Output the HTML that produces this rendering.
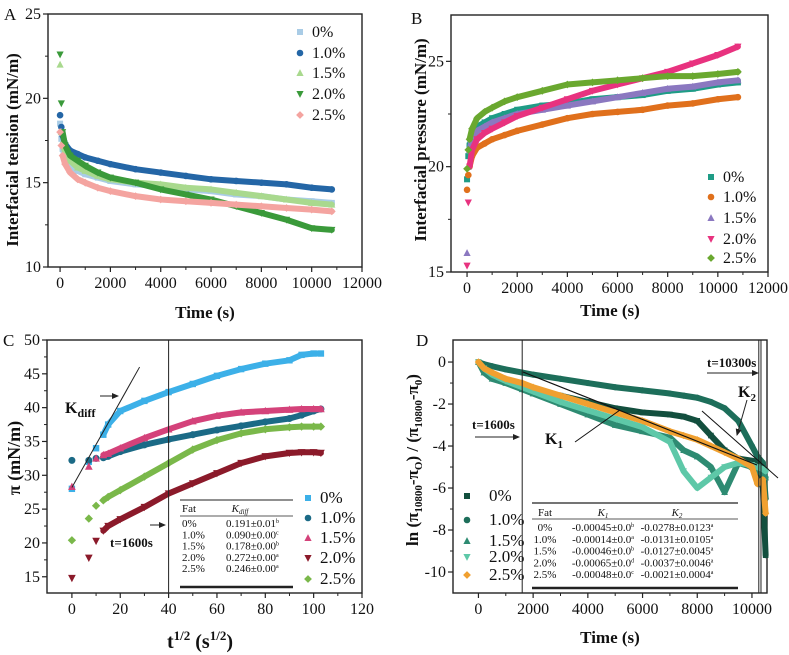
<!DOCTYPE html>
<html><head><meta charset="utf-8"><style>
html,body{margin:0;padding:0;background:#fff}
svg{display:block;font-family:"Liberation Serif",serif}
</style></head><body>
<svg id="fig" width="789" height="655" viewBox="0 0 789 655" xmlns="http://www.w3.org/2000/svg"></svg>
<script>
// ---------- DATA ----------
const tA=[0,50,100,200,400,700,1000,1500,2000,3000,4000,5000,6000,7000,8000,9000,10000,10800];
const labelsFat=["0%","1.0%","1.5%","2.0%","2.5%"];
const A0=[18.5,17.6,17.0,16.5,16.0,15.7,15.5,15.3,15.1,14.9,14.8,14.6,14.5,14.3,14.2,14.0,13.9,13.8];
const A1=[19.0,18.3,17.8,17.3,16.9,16.7,16.5,16.3,16.1,15.8,15.6,15.4,15.2,15.1,15.0,14.9,14.7,14.6];
const A15=[22.0,18.0,17.3,16.8,16.3,15.9,15.7,15.4,15.2,15.0,14.9,14.7,14.6,14.4,14.2,14.0,13.8,13.7];
const A2=[22.6,19.7,18.0,17.2,16.6,16.3,16.0,15.6,15.3,15.0,14.6,14.3,14.0,13.6,13.2,12.8,12.3,12.2];
const A25=[18.0,17.2,16.6,16.1,15.6,15.2,15.0,14.7,14.5,14.2,14.0,13.9,13.8,13.7,13.6,13.5,13.4,13.3];
const B0=[19.4,20.5,21.0,21.5,21.9,22.1,22.3,22.5,22.7,22.9,23.0,23.2,23.3,23.4,23.6,23.7,23.9,24.0];
const B1=[18.9,19.6,20.0,20.5,20.9,21.1,21.3,21.5,21.7,22.0,22.3,22.5,22.6,22.7,22.9,23.0,23.2,23.3];
const B15=[15.9,20.0,20.8,21.3,21.7,21.9,22.1,22.3,22.5,22.7,22.9,23.1,23.3,23.5,23.7,23.8,24.0,24.1];
const B2=[15.3,18.3,20.0,20.8,21.3,21.6,21.8,22.1,22.4,22.8,23.2,23.6,23.9,24.2,24.5,24.9,25.3,25.7];
const B25=[19.9,20.8,21.3,21.8,22.3,22.6,22.8,23.1,23.3,23.6,23.9,24.0,24.1,24.2,24.3,24.3,24.4,24.5];
const sqC=[0,7,10,13,15,20,30,40,50,60,70,80,90,95,100,103];
const C0=[28,32,34,36,37.5,39.5,41,42.3,43.5,44.7,45.7,46.5,47.0,47.8,48,48];
const C1=[32.2,32.2,32.5,32.6,32.8,33.5,34.5,35.3,36,36.7,37.3,37.9,38.4,38.9,39.5,39.8];
const C15=[28.3,31.3,32.5,33,33.2,34,35.5,36.8,38,38.8,39.3,39.5,39.7,39.8,39.8,39.8];
const C2=[14.8,17.8,20.3,21.8,22.5,23.5,25.3,27.3,28.8,30.3,31.8,32.8,33.3,33.4,33.4,33.3];
const C25=[20.4,23.6,25.5,26.3,26.8,27.8,29.8,31.8,33.8,35.2,36.2,36.8,37.1,37.2,37.2,37.2];
const tD=[0,200,500,1000,1600,2000,3000,4000,5000,6000,7000,7500,8000,8500,9000,9500,10000,10200,10400,10500];
const D0=[0,-0.4,-0.7,-0.9,-1.1,-1.3,-1.6,-1.9,-2.2,-2.4,-2.5,-2.6,-2.8,-3.5,-4.2,-4.6,-4.7,-4.8,-6,-9.2];
const D1=[0,-0.1,-0.2,-0.35,-0.5,-0.6,-0.8,-1.0,-1.2,-1.35,-1.5,-1.6,-1.7,-1.9,-2.2,-2.8,-4.0,-4.5,-4.8,-6.5];
const D15=[0,-0.5,-0.8,-1.0,-1.3,-1.5,-2.0,-2.5,-3.0,-3.3,-3.6,-4.2,-4.5,-5.0,-6.2,-4.8,-5.0,-5.2,-5.3,-5.5];
const D2=[0,-0.3,-0.6,-0.9,-1.2,-1.4,-1.9,-2.3,-2.7,-3.1,-3.8,-5.2,-6.0,-5.5,-5.0,-4.8,-4.9,-5.0,-5.1,-5.2];
const D25=[0,-0.3,-0.5,-0.8,-1.0,-1.2,-1.6,-2.0,-2.4,-2.8,-3.3,-3.5,-3.7,-4.0,-4.3,-4.6,-5.0,-5.8,-5.6,-7.2];
const ticksA_x=[0,2000,4000,6000,8000,10000,12000];
const ticksA_y=[10,15,20,25];
const ticksB_y=[15,20,25];
const ticksC_x=[0,20,40,60,80,100,120];
const ticksC_y=[15,20,25,30,35,40,45,50];
const ticksD_x=[0,2000,4000,6000,8000,10000];
const ticksD_y=[0,-2,-4,-6,-8,-10];
const kdiffRows=[["0%","0.191±0.01","b"],["1.0%","0.090±0.00","c"],["1.5%","0.178±0.00","b"],["2.0%","0.272±0.00","a"],["2.5%","0.246±0.00","a"]];
const kRows=[["0%","-0.00045±0.0","b","-0.0278±0.0123","a"],["1.0%","-0.00014±0.0","a","-0.0131±0.0105","a"],["1.5%","-0.00046±0.0","b","-0.0127±0.0045","a"],["2.0%","-0.00065±0.0","d","-0.0037±0.0046","a"],["2.5%","-0.00048±0.0","c","-0.0021±0.0004","a"]];

// ---------- HELPERS ----------
const NS="http://www.w3.org/2000/svg";
const svg=document.getElementById('fig');
function mk(tag,attrs,parent){const e=document.createElementNS(NS,tag);for(const k in attrs)e.setAttribute(k,attrs[k]);(parent||svg).appendChild(e);return e;}
function txt(s,x,y,opt,parent){const e=mk('text',Object.assign({x:x,y:y,'font-size':15,fill:'#111','font-family':'Liberation Serif, serif'},opt||{}),parent);e.textContent=s;return e;}
function marker(g,shape,x,y,c,s){
  let e;
  if(shape==='sq') e=mk('rect',{x:x-s,y:y-s,width:2*s,height:2*s,fill:c},g);
  else if(shape==='ci') e=mk('circle',{cx:x,cy:y,r:s*1.1,fill:c},g);
  else if(shape==='tu') e=mk('polygon',{points:`${x},${y-s*1.3} ${x-s*1.2},${y+s} ${x+s*1.2},${y+s}`,fill:c},g);
  else if(shape==='td') e=mk('polygon',{points:`${x},${y+s*1.3} ${x-s*1.2},${y-s} ${x+s*1.2},${y-s}`,fill:c},g);
  else e=mk('polygon',{points:`${x},${y-s*1.3} ${x+s*1.3},${y} ${x},${y+s*1.3} ${x-s*1.3},${y}`,fill:c},g);
  return e;
}
function axes(name,box,xd,yd,xt,yt){
  const sx=v=>box.l+(v-xd[0])/(xd[1]-xd[0])*(box.r-box.l);
  const sy=v=>box.b-(v-yd[0])/(yd[1]-yd[0])*(box.b-box.t);
  const g=mk('g',{});
  
  
  mk('rect',{x:box.l,y:box.t,width:box.r-box.l,height:box.b-box.t,fill:'none',stroke:'#222','stroke-width':1.4},g);
  xt.forEach(v=>{const x=sx(v);mk('line',{x1:x,x2:x,y1:box.b,y2:box.b+5,stroke:'#222','stroke-width':1.2},g);
    const t=txt(String(v),x,box.b+21,{'text-anchor':'middle','font-size':16},g);
    });
  for(let i=0;i<xt.length-1;i++){const m=(xt[i]+xt[i+1])/2;const x=sx(m);mk('line',{x1:x,x2:x,y1:box.b,y2:box.b+3,stroke:'#222'},g);}
  yt.forEach(v=>{const y=sy(v);mk('line',{x1:box.l-5,x2:box.l,y1:y,y2:y,stroke:'#222','stroke-width':1.2},g);
    const t=txt(String(v),box.l-7,y+5,{'text-anchor':'end','font-size':16},g);
    });
  for(let i=0;i<yt.length-1;i++){const m=(yt[i]+yt[i+1])/2;const y=sy(m);mk('line',{x1:box.l-3,x2:box.l,y1:y,y2:y,stroke:'#222'},g);}
  return {sx,sy,g};
}
function series(ax,name,xs,ys,color,shape,startLine,ms){
  const g=mk('g',{});
  
  
  const pts=xs.slice(startLine).map((x,i)=>ax.sx(x)+','+ax.sy(ys[i+startLine])).join(' ');
  mk('polyline',{points:pts,fill:'none',stroke:color,'stroke-width':6,'stroke-linejoin':'round','stroke-linecap':'round'},g);
  xs.forEach((x,i)=>{const m=marker(g,shape,ax.sx(x),ax.sy(ys[i]),color,ms||3);
    
    });
}
function legend(name,x,ys,colors,shapes,labels,fs,gap){
  const g=mk('g',{});
  
  
  labels.forEach((l,i)=>{const m=marker(g,shapes[i],x,ys[i],colors[i],3);
    
    const t=txt(l,x+(gap||12),ys[i]+5,{'font-size':fs},g);
    });
}
const shapes=['sq','ci','tu','td','di'];

// ---------- PANEL A ----------
const aA=axes('panel-a',{l:48,r:362,t:14,b:267},[-480,12000],[10,25],ticksA_x,ticksA_y);
const colA=['#a9cce6','#2466a6','#a9d98e','#3a9a3a','#f4a4a0'];
[A0,A1,A15,A2,A25].forEach((d,i)=>series(aA,'series-a-'+labelsFat[i],tA,d,colA[i],shapes[i],2));
legend('legend-a',300,[32,53,73,94,115],colA,shapes,labelsFat,16);

// ---------- PANEL B ----------
const aB=axes('panel-b',{l:451,r:768,t:15,b:272},[-640,12000],[15,27.2],ticksA_x,ticksB_y);
const colB=['#1f9c86','#e0701c','#8b78c0','#e8327f','#6aa82f'];
[B0,B1,B15,B2,B25].forEach((d,i)=>series(aB,'series-b-'+labelsFat[i],tA,d,colB[i],shapes[i],2));
legend('legend-b',711,[177,197,218,239,258],colB,shapes,labelsFat,16);

// ---------- PANEL C ----------
const aC=axes('panel-c',{l:47,r:362,t:340,b:593},[-10.3,120],[12.6,50],ticksC_x,ticksC_y);
const colC=['#3cb0e8','#1b6a86','#d4427a','#8b1a2a','#7ab84a'];
[C0,C1,C15,C2,C25].forEach((d,i)=>series(aC,'series-c-'+labelsFat[i],sqC,d,colC[i],shapes[i],3,3.2));
legend('legend-c',308,[498,518,538,558,579],colC,shapes,labelsFat,17);
mk('line',{x1:aC.sx(40),x2:aC.sx(40),y1:340,y2:593,stroke:'#222','stroke-width':1});
mk('line',{x1:aC.sx(0),y1:aC.sy(28.2),x2:aC.sx(28),y2:aC.sy(46),stroke:'#222','stroke-width':1});

// ---------- PANEL D ----------
const aD=axes('panel-d',{l:453,r:767,t:340,b:593},[-930,10550],[-11,1.05],ticksD_x,ticksD_y);
const colD=['#134f3e','#1d6e5a','#2e8b72','#5ec8a8','#f0a030'];
[D0,D1,D15,D2,D25].forEach((d,i)=>series(aD,'series-d-'+labelsFat[i],tD,d,colD[i],shapes[i],0,2.8));
legend('legend-d',467,[496,520,541,557,575],colD,shapes,labelsFat,17,22);
mk('line',{x1:aD.sx(1600),x2:aD.sx(1600),y1:340,y2:593,stroke:'#222','stroke-width':1});
mk('line',{x1:aD.sx(10250),x2:aD.sx(10250),y1:340,y2:593,stroke:'#222','stroke-width':1});
mk('line',{x1:aD.sx(10330),x2:aD.sx(10330),y1:340,y2:593,stroke:'#222','stroke-width':1});

// ---------- ANNOTATIONS ----------
const arrowDef=mk('defs',{});
const mkr=mk('marker',{id:'ah',markerWidth:7,markerHeight:6,refX:6,refY:3,orient:'auto'},arrowDef);
mk('path',{d:'M0,0 L7,3 L0,6 z',fill:'#222'},mkr);
function aline(x1,y1,x2,y2,name){const l=mk('line',{x1,y1,x2,y2,stroke:'#222','stroke-width':1,'marker-end':'url(#ah)'});
  }
function lab(s,x,y,opt,name){const t=txt(s,x,y,opt);return t;}

lab('A',4,20,{'font-size':17},'panel-a-letter');
lab('B',411,24,{'font-size':17},'panel-b-letter');
lab('C',3,346,{'font-size':17},'panel-c-letter');
lab('D',416,346,{'font-size':17},'panel-d-letter');

lab('Time (s)',205,318,{'text-anchor':'middle','font-size':17,'font-weight':'bold'},'x-axis-title-a');
lab('Time (s)',610,316,{'text-anchor':'middle','font-size':17,'font-weight':'bold'},'x-axis-title-b');
lab('Time (s)',610,643,{'text-anchor':'middle','font-size':17,'font-weight':'bold'},'x-axis-title-d');
lab('Interfacial tension (mN/m)',0,0,{'text-anchor':'middle','font-size':17,'font-weight':'bold',transform:'translate(18,150) rotate(-90)'},'y-axis-title-a');
lab('Interfacial pressure (mN/m)',0,0,{'text-anchor':'middle','font-size':17,'font-weight':'bold',transform:'translate(426,140) rotate(-90)'},'y-axis-title-b');
lab('π (mN/m)',0,0,{'text-anchor':'middle','font-size':18,'font-weight':'bold',transform:'translate(20,458) rotate(-90)'},'y-axis-title-c');
const xc=lab('',200,648,{'text-anchor':'middle','font-size':20,'font-weight':'bold'},'x-axis-title-c');
xc.innerHTML='t<tspan font-size="13" dy="-8">1/2</tspan><tspan dy="8"> (s</tspan><tspan font-size="13" dy="-8">1/2</tspan><tspan dy="8">)</tspan>';
const yd=lab('',0,0,{'text-anchor':'middle','font-size':17,'font-weight':'bold',transform:'translate(418,460) rotate(-90)'},'y-axis-title-d');
yd.innerHTML='ln (π<tspan font-size="11" dy="4">10800</tspan><tspan dy="-4">-π</tspan><tspan font-size="11" dy="4">O</tspan><tspan dy="-4">) / (π</tspan><tspan font-size="11" dy="4">10800</tspan><tspan dy="-4">-π</tspan><tspan font-size="11" dy="4">0</tspan><tspan dy="-4">)</tspan>';

const kd=lab('',65,413,{'font-size':16,'font-weight':'bold'},'kdiff-label');
kd.innerHTML='K<tspan font-size="12" dy="4">diff</tspan>';
aline(100,396,118,396,'kdiff-arrow');
lab('t=1600s',110,547,{'font-size':13,'font-weight':'bold'},'t1600-label-c');
aline(150,525,165,525,'t1600-arrow-c');

const gC=mk('g',{});
mk('line',{x1:180,x2:293,y1:500,y2:500,stroke:'#222','stroke-width':1},gC);
mk('line',{x1:180,x2:293,y1:516,y2:516,stroke:'#222','stroke-width':0.8},gC);
mk('line',{x1:180,x2:293,y1:587,y2:587,stroke:'#222','stroke-width':2.5},gC);
txt('Fat',182,512,{'font-size':11},gC);
const kh=txt('',240,512,{'font-size':11,'font-style':'italic','text-anchor':'middle'},gC);kh.innerHTML='K<tspan font-size="7" dy="2">diff</tspan>';
kdiffRows.forEach((r,i)=>{const y=527+i*11.3;txt(r[0],182,y,{'font-size':11},gC);
  const t=txt('',226,y,{'font-size':11},gC);t.innerHTML=r[1]+'<tspan font-size="6" dy="-4">'+r[2]+'</tspan>';});

lab('t=1600s',472,429,{'font-size':13,'font-weight':'bold'},'t1600-label-d');
aline(475,437,519,437,'t1600-arrow-d');
lab('t=10300s',707,367,{'font-size':13,'font-weight':'bold'},'t10300-label');
aline(707,373,758,373,'t10300-arrow');
mk('line',{x1:523,y1:372,x2:757,y2:465,stroke:'#111','stroke-width':1.2});
mk('line',{x1:702,y1:411,x2:778,y2:478,stroke:'#111','stroke-width':1});
mk('line',{x1:575,y1:442,x2:620,y2:410,stroke:'#111','stroke-width':1});
aline(747,400,737,435,'k2-arrow');
const k1=lab('',545,444,{'font-size':16,'font-weight':'bold'},'k1-label');k1.innerHTML='K<tspan font-size="11" dy="4">1</tspan>';
const k2=lab('',738,397,{'font-size':16,'font-weight':'bold'},'k2-label');k2.innerHTML='K<tspan font-size="11" dy="4">2</tspan>';

const gD=mk('g',{});
mk('rect',{x:532,y:503,width:206,height:85,fill:'#fff'},gD);
mk('line',{x1:532,x2:738,y1:503,y2:503,stroke:'#222','stroke-width':1.2},gD);
mk('line',{x1:532,x2:738,y1:519,y2:519,stroke:'#222','stroke-width':0.8},gD);
mk('line',{x1:532,x2:738,y1:588,y2:588,stroke:'#222','stroke-width':2.5},gD);
txt('Fat',545,516,{'font-size':11,'text-anchor':'middle'},gD);
const h1=txt('',603,516,{'font-size':11,'font-style':'italic','text-anchor':'middle'},gD);h1.innerHTML='K<tspan font-size="7" dy="2">1</tspan>';
const h2=txt('',677,516,{'font-size':11,'font-style':'italic','text-anchor':'middle'},gD);h2.innerHTML='K<tspan font-size="7" dy="2">2</tspan>';
kRows.forEach((r,i)=>{const y=531+i*11.8;txt(r[0],545,y,{'font-size':11,'text-anchor':'middle'},gD);
  const a=txt('',603,y,{'font-size':11,'text-anchor':'middle'},gD);a.innerHTML=r[1]+'<tspan font-size="6" dy="-4">'+r[2]+'</tspan>';
  const b=txt('',677,y,{'font-size':11,'text-anchor':'middle'},gD);b.innerHTML=r[3]+'<tspan font-size="6" dy="-4">'+r[4]+'</tspan>';});
</script>
</body></html>
